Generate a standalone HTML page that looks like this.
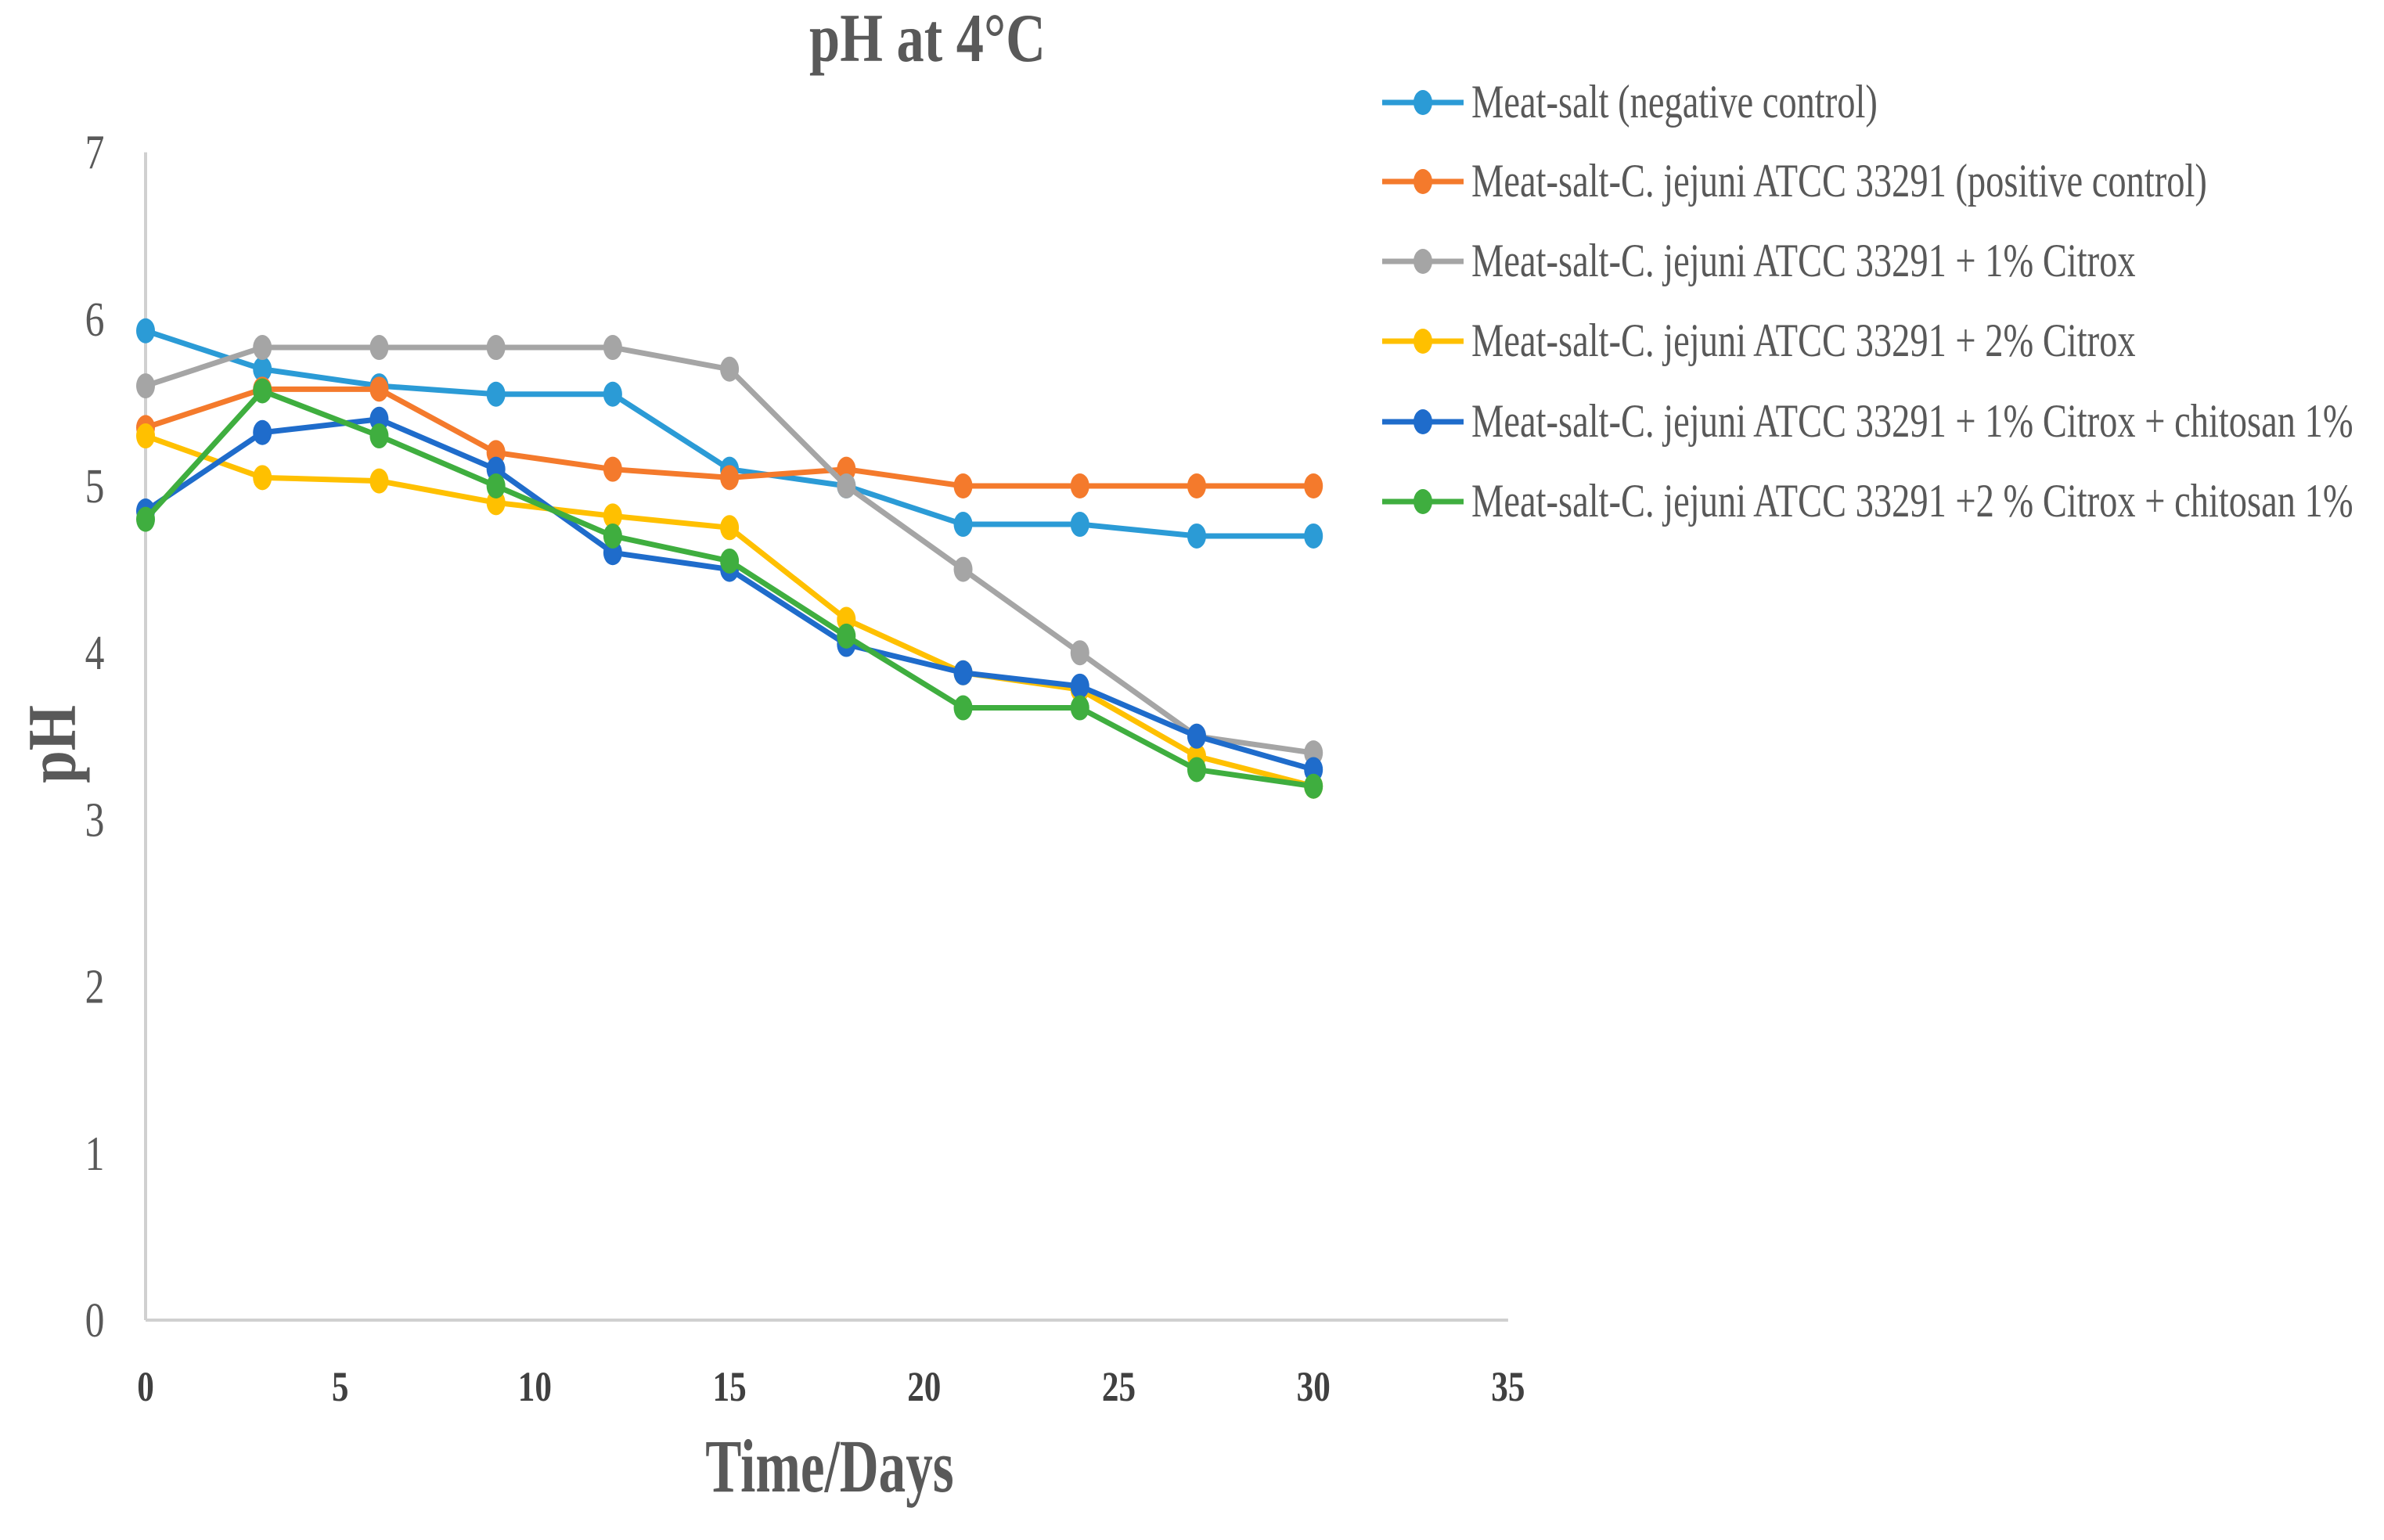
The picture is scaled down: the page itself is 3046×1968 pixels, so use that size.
<!DOCTYPE html>
<html><head><meta charset="utf-8"><style>
html,body{margin:0;padding:0;background:#fff;}
svg{display:block;font-family:"Liberation Serif",serif;}
</style></head><body>
<svg id="chart" width="3046" height="1968" viewBox="0 0 3046 1968">
<g id="axes"></g><g id="plot"></g><g id="legend"></g>
</svg>
<script>
const days = [0,3,6,9,12,15,18,21,24,27,30];
const seriesNames = ["Meat-salt (negative control)","Meat-salt-C. jejuni ATCC 33291 (positive control)","Meat-salt-C. jejuni ATCC 33291 + 1% Citrox","Meat-salt-C. jejuni ATCC 33291 + 2% Citrox","Meat-salt-C. jejuni ATCC 33291 + 1% Citrox + chitosan 1%","Meat-salt-C. jejuni ATCC 33291 +2 % Citrox + chitosan 1%"];
const negControl = [5.93,5.7,5.6,5.55,5.55,5.1,5.0,4.77,4.77,4.7,4.7];
const posControl = [5.35,5.58,5.58,5.2,5.1,5.05,5.1,5.0,5.0,5.0,5.0];
const citrox1 = [5.6,5.83,5.83,5.83,5.83,5.7,5.0,4.5,4.0,3.5,3.4];
const citrox2 = [5.3,5.05,5.03,4.9,4.82,4.75,4.2,3.88,3.78,3.38,3.2];
const citrox1Chit = [4.85,5.32,5.4,5.1,4.6,4.5,4.05,3.88,3.8,3.5,3.3];
const citrox2Chit = [4.8,5.57,5.3,5.0,4.7,4.55,4.1,3.67,3.67,3.3,3.2];
const xTicks = [0,5,10,15,20,25,30,35];
const yTicks = [0,1,2,3,4,5,6,7];
const colors = ["#2b9bd6","#f47a2c","#a5a5a5","#ffc000","#1f6ccb","#3fae3f"];
const allSeries = [negControl,posControl,citrox1,citrox2,citrox1Chit,citrox2Chit];

const NS="http://www.w3.org/2000/svg";
const x0=186, xPer=49.74, y0=1687, yPer=213.2;
function xs(v){return x0+v*xPer;}
function ys(v){return y0-v*yPer;}
function mk(tag,parent,attrs){const e=document.createElementNS(NS,tag);for(const k in attrs)e.setAttribute(k,attrs[k]);parent.appendChild(e);return e;}
const axes=document.getElementById('axes'), plot=document.getElementById('plot'), legend=document.getElementById('legend');

let e=mk('line',axes,{x1:x0,y1:ys(7),x2:x0,y2:y0,stroke:'#d0d0d0','stroke-width':4});


e=mk('line',axes,{x1:x0,y1:y0,x2:xs(35),y2:y0,stroke:'#d0d0d0','stroke-width':4});



yTicks.forEach(t=>{
  const tx=mk('text',axes,{x:121,y:ys(t)+21,'text-anchor':'middle','font-size':62,fill:'#595959',transform:`translate(121,0) scale(0.8,1) translate(-121,0)`});
  tx.textContent=t;
  
  
});
xTicks.forEach(t=>{
  const tx=mk('text',axes,{x:xs(t),y:1790,'text-anchor':'middle','font-size':54,'font-weight':'bold',fill:'#404040',transform:`translate(${xs(t)},0) scale(0.8,1) translate(${-xs(t)},0)`});
  tx.textContent=t;
  
  
});

e=mk('text',axes,{x:1185,y:78,'text-anchor':'middle','font-size':88,'font-weight':'bold',fill:'#595959',transform:'translate(1185,0) scale(0.8,1) translate(-1185,0)'});
e.textContent='pH at 4°C';


e=mk('text',axes,{x:1060,y:1906,'text-anchor':'middle','font-size':96,'font-weight':'bold',fill:'#595959',transform:'translate(1060,0) scale(0.72,1) translate(-1060,0)'});
e.textContent='Time/Days';


e=mk('text',axes,{x:0,y:0,'text-anchor':'middle','font-size':88,'font-weight':'bold',fill:'#595959',transform:'translate(96,951) rotate(-90) scale(0.85,1)'});
e.textContent='pH';



allSeries.forEach((vals,si)=>{
  const g=mk('g',plot,{});
  
  
  const pl=mk('polyline',g,{points:vals.map((v,i)=>xs(days[i])+','+ys(v)).join(' '),fill:'none',stroke:colors[si],'stroke-width':7,'stroke-linejoin':'round'});
  
  
  vals.forEach((v,i)=>{
    const c=mk('ellipse',g,{cx:xs(days[i]),cy:ys(v),rx:12,ry:16,fill:colors[si]});
    
    
  });
});

const legY=[131,232,334,436,539,641];
seriesNames.forEach((n,i)=>{
  const g=mk('g',legend,{});
  
  
  mk('line',g,{x1:1766,y1:legY[i],x2:1870,y2:legY[i],stroke:colors[i],'stroke-width':7});
  mk('ellipse',g,{cx:1818,cy:legY[i],rx:12,ry:16,fill:colors[i]});
  const t=mk('text',g,{x:1880,y:legY[i]+19,'font-size':60,fill:'#595959',transform:'translate(1880,0) scale(0.775,1) translate(-1880,0)'});
  t.textContent=n;
});
</script>
</body></html>
